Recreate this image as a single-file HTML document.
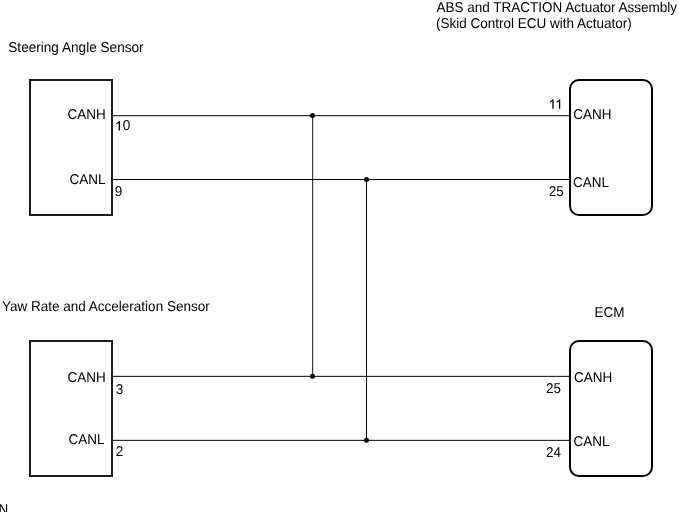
<!DOCTYPE html>
<html><head><meta charset="utf-8">
<style>
html,body{margin:0;padding:0;background:#fff;width:682px;height:512px;overflow:hidden}
svg{position:absolute;left:0;top:0;will-change:transform}
text{text-rendering:geometricPrecision;font-family:"Liberation Sans",sans-serif;fill:#000;font-size:13.5px}
</style></head><body>
<svg width="682" height="512" viewBox="0 0 682 512">
<g fill="none" stroke="#1d1d1d" stroke-width="2">
<rect x="30" y="80" width="82" height="135"/>
<rect x="30" y="341" width="82" height="135"/>
</g>
<g fill="none" stroke="#000" stroke-width="2">
<rect x="570" y="80" width="82" height="135" rx="9" ry="9"/>
<rect x="570" y="341" width="82" height="135" rx="9" ry="9"/>
</g>
<g fill="none" stroke="#000">
<line x1="113" y1="115.7" x2="569" y2="115.7" stroke-width="1"/>
<line x1="113" y1="179.5" x2="569" y2="179.5" stroke-width="1"/>
<line x1="113" y1="376.33" x2="569" y2="376.33" stroke-width="1"/>
<line x1="113" y1="440.33" x2="569" y2="440.33" stroke-width="1"/>
<line x1="312.68" y1="115.7" x2="312.68" y2="376.33" stroke-width="0.92"/>
<line x1="366.5" y1="179.5" x2="366.5" y2="440.33" stroke-width="1"/>
</g>
<g fill="#000">
<circle cx="312.5" cy="115.5" r="2.5"/>
<circle cx="366.5" cy="179.5" r="2.5"/>
<circle cx="312.5" cy="376.25" r="2.5"/>
<circle cx="366.5" cy="440.25" r="2.5"/>
</g>
<g transform="translate(8.3,52) scale(1,1.05)"><text id="steer" x="0" y="0" style="font-size:13.6px">Steering Angle Sensor</text></g>
<g transform="translate(436.49,12) scale(1,1.05)"><text id="abs" x="0" y="0">ABS and TRACTION Actuator Assembly</text></g>
<g transform="translate(435.9,28) scale(1,1.05)"><text id="skid" x="0" y="0">(Skid Control ECU with Actuator)</text></g>
<g transform="translate(2.04,311) scale(1,1.05)"><text id="yaw" x="0" y="0">Yaw Rate and Acceleration Sensor</text></g>
<g transform="translate(594.42,317) scale(1,1.05)"><text id="ecm" x="0" y="0">ECM</text></g>
<g transform="translate(67.38,119) scale(1,1.05)"><text id="lch1" x="0" y="0">CANH</text></g>
<g transform="translate(69.5,184) scale(1,1.05)"><text id="lcl1" x="0" y="0">CANL</text></g>
<g transform="translate(122.7,130) scale(1,1.05)"><text id="n10" x="0" y="0">0</text></g>
<g transform="translate(114.8,196) scale(1,1.05)"><text id="n9" x="0" y="0">9</text></g>
<g transform="translate(573.22,119) scale(1,1.05)"><text id="rch1" x="0" y="0">CANH</text></g>
<g transform="translate(573.08,187) scale(1,1.05)"><text id="rcl1" x="0" y="0">CANL</text></g>
<g transform="translate(548.79,196) scale(1,1.05)"><text id="n25a" x="0" y="0">25</text></g>
<g transform="translate(67.4,382) scale(1,1.05)"><text id="lch2" x="0" y="0">CANH</text></g>
<g transform="translate(68.38,444) scale(1,1.05)"><text id="lcl2" x="0" y="0">CANL</text></g>
<g transform="translate(115.64,394) scale(1,1.05)"><text id="n3" x="0" y="0">3</text></g>
<g transform="translate(115.84,456) scale(1,1.05)"><text id="n2" x="0" y="0">2</text></g>
<g transform="translate(574.12,382) scale(1,1.05)"><text id="rch2" x="0" y="0">CANH</text></g>
<g transform="translate(573.6,446) scale(1,1.05)"><text id="rcl2" x="0" y="0">CANL</text></g>
<g transform="translate(545.97,393) scale(1,1.05)"><text id="n25b" x="0" y="0">25</text></g>
<g transform="translate(545.88,457) scale(1,1.05)"><text id="n24" x="0" y="0">24</text></g>
<g transform="translate(-1.6,514) scale(1,1.05)"><text id="nN" x="0" y="0">N</text></g>
<g fill="#000">
<g transform="translate(119.3,130.6)"><path d="M0.65,0 L0.65,-9.7 L-0.3,-9.7 C-0.9,-8.7 -1.9,-7.9 -3.0,-7.3 L-3.0,-6.1 C-2.1,-6.5 -1.2,-7.1 -0.65,-7.6 L-0.65,0 Z"/></g>
<g transform="translate(553.0,108.8)"><path d="M0.65,0 L0.65,-9.6 L-0.3,-9.6 C-0.9,-8.6 -1.9,-7.8 -3.0,-7.2 L-3.0,-6.0 C-2.1,-6.4 -1.2,-7.0 -0.65,-7.5 L-0.65,0 Z"/></g>
<g transform="translate(559.6,108.8)"><path d="M0.65,0 L0.65,-9.6 L-0.3,-9.6 C-0.9,-8.6 -1.9,-7.8 -3.0,-7.2 L-3.0,-6.0 C-2.1,-6.4 -1.2,-7.0 -0.65,-7.5 L-0.65,0 Z"/></g>
</g>
</svg>
</body></html>
